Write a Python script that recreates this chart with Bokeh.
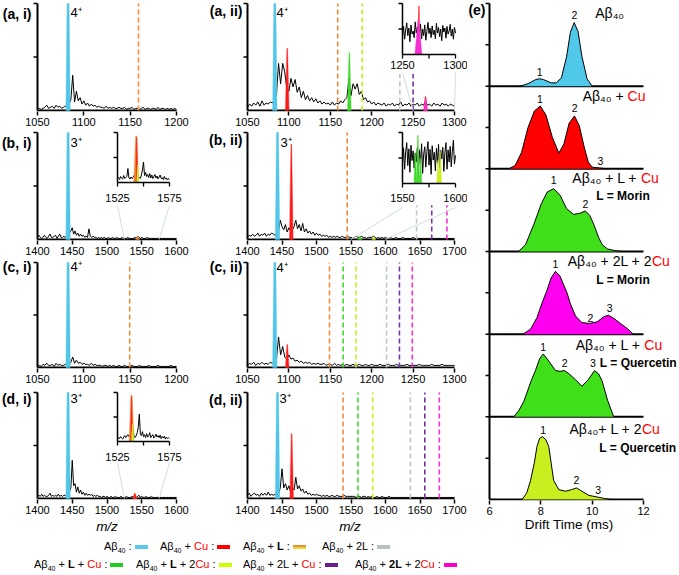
import numpy as np
from bokeh.plotting import figure
from bokeh.models import Range1d, FixedTicker, Label, Div, ColumnDataSource
from bokeh.layouts import column, row
from bokeh.core.properties import value
from bokeh.embed import file_html
from bokeh.resources import INLINE

FONT = "Liberation Sans"

# ---------------- species colours ----------------
COLORS = {"A": "#52c6e9", "Cu": "#ff1a1a", "L": "#f5883a", "2L": "#bcc8c8",
          "LCu": "#3fd92a", "L2Cu": "#c9ef22", "2LCu": "#7b34a6", "2L2Cu": "#f42fd0"}

# ---------------- (a, i) ----------------
AI_RANGE = (1050, 1200)
AI_TICKS = [1050, 1100, 1150, 1200]
AI_MZ0, AI_STEP = 1050, 2
AI_INT = [1, 2, 1, 2, 3, 5, 2, 3, 4, 2,
          5, 3, 4, 2, 3, 4, 5, 6, 10, 33,
          8, 18, 9, 12, 6, 9, 5, 7, 4, 6,
          4, 5, 3, 4, 3, 3, 2, 4, 2, 3,
          2, 3, 2, 2, 3, 2, 2, 3, 1, 2,
          2, 3, 1, 2, 2, 1, 2, 3, 1, 2,
          2, 1, 2, 2, 1, 3, 1, 2, 2, 1,
          2, 1, 2, 1, 2, 1]
AI_PK_MZ = [1083]
AI_PK_H = [1.0]
AI_PK_S = ["A"]
AI_DASH_MZ = [1159]
AI_DASH_S = ["L"]
AI_DASH_TOP = [1.0]

# ---------------- (b, i) ----------------
BI_RANGE = (1400, 1600)
BI_TICKS = [1400, 1450, 1500, 1550, 1600]
BI_MZ0, BI_STEP = 1400, 2
BI_INT = [2, 4, 2, 1, 2, 4, 2, 1, 3, 5,
          2, 2, 3, 4, 1, 3, 5, 2, 2, 3,
          2, 3, 4, 6, 8, 11, 5, 8, 4, 6,
          3, 5, 3, 4, 2, 3, 2, 10, 3, 2,
          3, 2, 2, 1, 2, 1, 2, 1, 2, 1,
          1, 2, 1, 1, 2, 1, 1, 2, 1, 1,
          1, 2, 1, 1, 1, 2, 1, 1, 1, 1,
          2, 1, 3, 2, 1, 2, 1, 1, 1, 2,
          1, 1, 1, 1, 1, 1, 1, 1, 1, 1,
          1, 1, 1, 1, 1, 1, 1, 1, 1, 1,
          1]
BI_PK_MZ = [1444, 1544]
BI_PK_H = [1.0, 0.03]
BI_PK_S = ["A", "L"]
BI_INS_RANGE = (1525, 1575)
BI_INS_INT = [8, 10, 6, 12, 9, 7, 14, 8, 10, 12,
              28, 9, 7, 11, 8, 10, 14, 20, 30, 18,
              12, 10, 8, 15, 25, 41, 14, 20, 12, 16,
              10, 18, 9, 15, 8, 12, 16, 9, 13, 7,
              11, 15, 8, 10, 6, 12, 7, 9, 5, 8,
              6]
BI_INS_PK_MZ = [1543, 1543.5, 1544.5]
BI_INS_PK_H = [0.93, 0.90, 0.35]
BI_INS_PK_S = ["L", "Cu", "L2Cu"]

# ---------------- (c, i) ----------------
CI_RANGE = (1050, 1200)
CI_TICKS = [1050, 1100, 1150, 1200]
CI_MZ0, CI_STEP = 1050, 2
CI_INT = [1, 2, 1, 3, 2, 4, 2, 2, 3, 1,
          4, 2, 3, 2, 2, 3, 3, 4, 5, 10,
          4, 7, 4, 5, 3, 4, 3, 3, 2, 4,
          2, 3, 2, 2, 2, 1, 2, 2, 1, 2,
          1, 2, 1, 1, 2, 1, 1, 2, 1, 1,
          1, 2, 1, 1, 1, 2, 1, 1, 1, 1,
          2, 1, 1, 1, 1, 2, 1, 1, 1, 1,
          1, 1, 2, 1, 1, 1]
CI_PK_MZ = [1083]
CI_PK_H = [1.0]
CI_PK_S = ["A"]
CI_DASH_MZ = [1149.5]
CI_DASH_S = ["L"]
CI_DASH_TOP = [1.0]

# ---------------- (d, i) ----------------
DI_RANGE = (1400, 1600)
DI_TICKS = [1400, 1450, 1500, 1550, 1600]
DI_MZ0, DI_STEP = 1400, 2
DI_INT = [2, 3, 2, 4, 2, 3, 2, 2, 3, 5,
          2, 3, 2, 3, 2, 4, 2, 3, 2, 3,
          3, 4, 5, 7, 10, 36, 12, 14, 6, 11,
          5, 8, 4, 6, 3, 5, 3, 4, 3, 4,
          2, 3, 2, 3, 2, 2, 1, 2, 2, 1,
          2, 1, 1, 2, 1, 1, 2, 1, 1, 1,
          2, 1, 1, 1, 2, 1, 1, 1, 2, 1,
          3, 1, 2, 3, 1, 2, 1, 1, 2, 1,
          1, 1, 2, 1, 1, 1, 1, 1, 1, 1,
          1, 1, 1, 1, 1, 1, 1, 1, 1, 1,
          1]
DI_PK_MZ = [1444, 1540, 1540]
DI_PK_H = [1.0, 0.05, 0.045]
DI_PK_S = ["A", "L", "Cu"]
DI_INS_RANGE = (1525, 1575)
DI_INS_INT = [5, 8, 6, 10, 7, 5, 9, 12, 8, 11,
              14, 10, 9, 20, 35, 22, 10, 8, 12, 18,
              30, 56, 15, 12, 20, 10, 14, 8, 16, 9,
              12, 18, 8, 11, 14, 7, 10, 15, 9, 12,
              8, 13, 6, 10, 7, 11, 5, 9, 6, 8,
              6]
DI_INS_PK_MZ = [1538.5, 1538.5, 1539.5]
DI_INS_PK_H = [0.94, 0.92, 0.35]
DI_INS_PK_S = ["L", "Cu", "L2Cu"]

# ---------------- (a, ii) ----------------
AII_RANGE = (1050, 1300)
AII_TICKS = [1050, 1100, 1150, 1200, 1250, 1300]
AII_MZ0, AII_STEP = 1050, 2.5
AII_INT = [3, 6, 4, 7, 5, 8, 4, 9, 5, 7,
           6, 8, 7, 10, 15, 44, 25, 44, 36, 20,
           18, 30, 22, 29, 17, 22, 12, 18, 10, 14,
           9, 12, 8, 11, 7, 9, 6, 8, 6, 7,
           5, 8, 5, 7, 6, 9, 7, 10, 12, 30,
           14, 25, 20, 25, 15, 18, 10, 12, 8, 9,
           6, 8, 5, 7, 6, 5, 7, 4, 6, 5,
           7, 4, 6, 5, 8, 4, 6, 5, 7, 4,
           6, 5, 7, 4, 6, 5, 8, 5, 6, 4,
           7, 5, 6, 4, 7, 5, 6, 4, 6, 5,
           4]
AII_PK_MZ = [1083, 1098, 1173, 1265, 1265]
AII_PK_H = [1.0, 0.58, 0.54, 0.13, 0.11]
AII_PK_S = ["A", "Cu", "LCu", "Cu", "2L2Cu"]
AII_DASH_MZ = [1159, 1188.5, 1234, 1250]
AII_DASH_S = ["L", "L2Cu", "2L", "2LCu"]
AII_DASH_TOP = [1.0, 1.0, 0.34, 0.34]
AII_INS_RANGE = (1250, 1300)
AII_INS_INT = [35, 55, 30, 48, 62, 37, 52, 25, 58, 40,
               46, 33, 64, 42, 54, 50, 39, 60, 31, 50,
               37, 58, 28, 45, 63, 41, 52, 33, 56, 39,
               48, 31, 61, 42, 53, 35, 50, 27, 57, 44,
               52, 32, 55, 40, 46, 59, 36, 50, 30, 53,
               42]
AII_INS_PK_MZ = [1265.5, 1265]
AII_INS_PK_H = [0.95, 0.67]
AII_INS_PK_S = ["Cu", "2L2Cu"]

# ---------------- (b, ii) ----------------
BII_RANGE = (1400, 1700)
BII_TICKS = [1400, 1450, 1500, 1550, 1600, 1650, 1700]
BII_MZ0, BII_STEP = 1400, 2.5
BII_INT = [2, 4, 3, 5, 3, 4, 6, 3, 5, 4,
           6, 3, 5, 4, 6, 5, 4, 6, 8, 18,
           12, 9, 14, 7, 11, 8, 9, 12, 18, 10,
           14, 8, 15, 7, 10, 6, 8, 5, 7, 4,
           6, 4, 5, 3, 4, 3, 4, 2, 3, 2,
           3, 2, 3, 2, 2, 3, 2, 2, 3, 2,
           2, 1, 2, 3, 2, 2, 3, 2, 2, 1,
           2, 2, 2, 3, 2, 1, 2, 1, 2, 1,
           2, 1, 1, 2, 1, 1, 2, 1, 1, 1,
           2, 1, 1, 1, 1, 1, 2, 1, 1, 1,
           1, 1, 1, 1, 1, 1, 1, 1, 1, 1,
           1, 1, 1, 1, 1, 1, 1, 1, 1, 1,
           1]
BII_PK_MZ = [1443.5, 1463.5, 1563, 1583]
BII_PK_H = [1.0, 0.89, 0.03, 0.025]
BII_PK_S = ["A", "Cu", "LCu", "L2Cu"]
BII_DASH_MZ = [1544.5, 1645, 1667, 1689]
BII_DASH_S = ["L", "2L", "2LCu", "2L2Cu"]
BII_DASH_TOP = [1.0, 0.32, 0.32, 0.32]
BII_INS_RANGE = (1550, 1600)
BII_INS_INT = [40, 70, 28, 62, 80, 35, 68, 22, 75, 45,
               64, 30, 60, 42, 70, 26, 66, 38, 78, 20,
               58, 72, 32, 63, 82, 36, 67, 18, 74, 46,
               61, 25, 69, 40, 77, 30, 65, 48, 71, 24,
               60, 80, 28, 66, 42, 73, 33, 62, 85, 38,
               55]
BII_INS_PK_MZ = [1564.5, 1562, 1567, 1585.5, 1583.5]
BII_INS_PK_H = [0.94, 0.6, 0.5, 0.63, 0.45]
BII_INS_PK_S = ["LCu", "LCu", "LCu", "L2Cu", "L2Cu"]

# ---------------- (c, ii) ----------------
CII_RANGE = (1050, 1300)
CII_TICKS = [1050, 1100, 1150, 1200, 1250, 1300]
CII_MZ0, CII_STEP = 1050, 2.5
CII_INT = [2, 4, 3, 5, 2, 4, 3, 5, 3, 4,
           3, 5, 4, 6, 8, 29, 12, 20, 10, 8,
           12, 8, 9, 6, 7, 5, 6, 4, 5, 4,
           5, 3, 4, 3, 4, 3, 3, 4, 2, 3,
           3, 2, 4, 2, 3, 2, 3, 2, 3, 2,
           2, 3, 2, 2, 3, 2, 2, 3, 2, 2,
           3, 2, 2, 2, 3, 2, 2, 2, 3, 2,
           2, 2, 3, 2, 2, 2, 2, 3, 2, 2,
           2, 2, 2, 3, 2, 2, 2, 2, 2, 3,
           2, 2, 2, 2, 3, 2, 2, 2, 2, 2,
           2]
CII_PK_MZ = [1083, 1098]
CII_PK_H = [1.0, 0.22]
CII_PK_S = ["A", "Cu"]
CII_DASH_MZ = [1149, 1165.5, 1181, 1218, 1233.5, 1249]
CII_DASH_S = ["L", "LCu", "L2Cu", "2L", "2LCu", "2L2Cu"]
CII_DASH_TOP = [1.0, 1.0, 1.0, 1.0, 1.0, 1.0]

# ---------------- (d, ii) ----------------
DII_RANGE = (1400, 1700)
DII_TICKS = [1400, 1450, 1500, 1550, 1600, 1650, 1700]
DII_MZ0, DII_STEP = 1400, 2.5
DII_INT = [3, 5, 2, 4, 5, 3, 4, 2, 5, 3,
           5, 3, 6, 3, 4, 3, 4, 3, 5, 10,
           28, 10, 14, 8, 12, 6, 10, 8, 20, 9,
           12, 7, 9, 5, 7, 4, 5, 3, 4, 3,
           4, 3, 3, 2, 3, 2, 3, 2, 2, 3,
           2, 2, 3, 2, 2, 2, 3, 2, 2, 2,
           2, 2, 2, 1, 2, 2, 1, 2, 2, 1,
           2, 1, 2, 1, 1, 2, 1, 1, 2, 1,
           1, 1, 2, 1, 1, 1, 1, 1, 1, 1,
           1, 1, 1, 1, 1, 1, 1, 1, 1, 1,
           1, 1, 1, 1, 1, 1, 1, 1, 1, 1,
           1, 1, 1, 1, 1, 1, 1, 1, 1, 1,
           1]
DII_PK_MZ = [1443.5, 1464]
DII_PK_H = [1.0, 0.61]
DII_PK_S = ["A", "Cu"]
DII_DASH_MZ = [1538.5, 1560, 1581.5, 1636, 1657, 1678]
DII_DASH_S = ["L", "LCu", "L2Cu", "2L", "2LCu", "2L2Cu"]
DII_DASH_TOP = [1.0, 1.0, 1.0, 1.0, 1.0, 1.0]

# ---------------- (e) drift-time distributions ----------------
E_T1 = [7.2, 7.5, 7.8, 7.95, 8.1, 8.4, 8.6, 8.8, 9.0, 9.15, 9.3, 9.45, 9.6, 9.8, 10.0]
E_V1 = [0, 0.03, 0.08, 0.09, 0.08, 0.04, 0.04, 0.10, 0.35, 0.65, 0.77, 0.66, 0.36, 0.09, 0.0]
E_T2 = [6.75, 7.0, 7.25, 7.5, 7.75, 7.98, 8.2, 8.45, 8.7, 8.9, 9.1, 9.31, 9.5, 9.7, 9.85, 10.0, 10.3, 10.6]
E_V2 = [0, 0.04, 0.2, 0.5, 0.7, 0.76, 0.65, 0.38, 0.19, 0.3, 0.55, 0.64, 0.52, 0.25, 0.08, 0.02, 0.01, 0]
E_T3 = [7.13, 7.4, 7.73, 8.02, 8.25, 8.5, 8.75, 9.0, 9.27, 9.5, 9.73, 9.9, 10.06, 10.25, 10.4, 10.6, 10.9, 11.2]
E_V3 = [0, 0.08, 0.33, 0.58, 0.72, 0.76, 0.68, 0.52, 0.45, 0.46, 0.49, 0.44, 0.33, 0.17, 0.08, 0.03, 0.01, 0]
E_T4 = [7.3, 7.6, 7.85, 8.05, 8.24, 8.4, 8.57, 8.75, 9.02, 9.15, 9.35, 9.6, 9.9, 10.2, 10.45, 10.63, 10.85, 11.1, 11.36, 11.6]
E_V4 = [0, 0.06, 0.2, 0.38, 0.53, 0.68, 0.76, 0.7, 0.5, 0.37, 0.22, 0.14, 0.13, 0.15, 0.21, 0.23, 0.19, 0.13, 0.07, 0]
E_T5 = [6.95, 7.15, 7.34, 7.63, 7.79, 7.95, 8.09, 8.25, 8.57, 8.75, 8.92, 9.1, 9.35, 9.6, 9.85, 10.09, 10.25, 10.38, 10.6, 10.84]
E_V5 = [0, 0.08, 0.19, 0.44, 0.56, 0.7, 0.76, 0.7, 0.56, 0.55, 0.56, 0.52, 0.45, 0.37, 0.45, 0.56, 0.52, 0.44, 0.2, 0]
E_T6 = [7.27, 7.45, 7.6, 7.75, 7.85, 7.95, 8.07, 8.2, 8.31, 8.5, 8.7, 8.96, 9.2, 9.39, 9.6, 9.87, 10.2, 10.45, 10.7]
E_V6 = [0, 0.08, 0.23, 0.45, 0.64, 0.74, 0.76, 0.72, 0.64, 0.23, 0.12, 0.1, 0.12, 0.14, 0.1, 0.05, 0.03, 0.015, 0]
E_FILLS = ["#4fc8ea", "#ff0000", "#3fe01a", "#ff00ee", "#3fe01a", "#c8f020"]

E_NUM_PANEL = [0, 0, 1, 1, 1, 2, 2, 3, 3, 3, 4, 4, 4, 5, 5, 5]
E_NUM_T = [7.95, 9.31, 7.96, 9.32, 10.32, 8.5, 9.74, 8.57, 9.93, 10.68, 8.09, 8.93, 10.03, 8.09, 9.39, 10.23]
E_NUM_F = [0.17, 0.86, 0.85, 0.73, 0.09, 0.86, 0.58, 0.85, 0.2, 0.32, 0.85, 0.65, 0.65, 0.84, 0.23, 0.11]
E_NUM_TXT = ["1", "2", "1", "2", "3", "1", "2", "1", "2", "3", "1", "2", "3", "1", "2", "3"]

E_TITLE_BLACK = ["A\u03b2\u2084\u2080", "A\u03b2\u2084\u2080 +\u00a0", "A\u03b2\u2084\u2080 + L +\u00a0",
                 "A\u03b2\u2084\u2080 + 2L + 2", "A\u03b2\u2084\u2080 + L +\u00a0", "A\u03b2\u2084\u2080+ L + 2"]
E_TITLE_RED = ["", "Cu", "Cu", "Cu", "Cu", "Cu"]
E_TITLE_T = [10.12, 11.38, 11.9, 12.33, 12.03, 11.94]
E_TITLE_F = [0.88, 0.88, 0.89, 0.88, 0.87, 0.85]
E_SUB_TXT = ["", "", "L = Morin", "L = Morin", "L = Quercetin", "L = Quercetin"]
E_SUB_T = [0, 0, 10.16, 10.16, 10.3, 10.28]
E_SUB_F = [0, 0, 0.67, 0.65, 0.65, 0.62]

# ---------------- legend ----------------
LEG_ROW = [0, 0, 0, 0, 1, 1, 1, 1]
LEG_LEFT = [104, 160, 243, 322, 34, 136, 243, 355]
LEG_KEY = ["A", "Cu", "L", "2L", "LCu", "L2Cu", "2LCu", "2L2Cu"]
RED = '<span style="color:#ff0000">Cu</span>'
AB = 'A&beta;<sub style="font-size:7px;line-height:0">40</sub>'
LEG_HTML = [AB + " :", AB + " + " + RED + " :", AB + " + <b>L</b> :", AB + " + 2L :",
            AB + " + <b>L</b> + " + RED + " :", AB + " + <b>L</b> + 2" + RED + " :",
            AB + " + 2L + " + RED + " :", AB + " + <b>2L</b> + 2" + RED + " :"]
LEG_SWATCH = {"A": "#5ac8e8", "Cu": "#ff0000", "L": "linear-gradient(#f08a3c 60%, #d8e030 60%)",
              "2L": "#b6c2c2", "LCu": "#22cc22", "L2Cu": "#ccff00", "2LCu": "#6a1f8f", "2L2Cu": "#ff00cc"}

# ---------------- page geometry (pixels) ----------------
# columns: (figure left, figure width, pixel of range start, pixel of range end)
COL1 = (0, 203, 37, 176)
COL2 = (203, 264, 247, 454)
COL3 = (467, 211, 489, 643)
# rows: (figure top, axis top, baseline)
ROWS = [(0, 3, 110), (130, 132, 239), (259, 262, 367), (387, 392, 498)]
BB = 19


def style_axes(p, xticks):
    p.grid.visible = False
    p.outline_line_color = None
    p.background_fill_color = "white"
    p.border_fill_color = "white"
    p.yaxis.visible = False
    ax = p.xaxis[0]
    ax.axis_line_color = None
    ax.major_tick_line_width = 1.5
    ax.major_tick_line_color = "black"
    ax.major_tick_in = 0
    ax.major_tick_out = 4
    ax.minor_tick_line_color = None
    ax.ticker = FixedTicker(ticks=xticks)
    ax.major_label_text_font = FONT
    ax.major_label_text_font_size = "11px"
    ax.major_label_standoff = 2
    ax.major_label_text_color = "black"


def draw_yaxis(p, x0, y_lo, y_hi, ticks):
    p.segment(x0=[x0], y0=[y_lo], x1=[x0], y1=[y_hi], line_color="black", line_width=2)
    p.ray(x=[x0] * len(ticks), y=ticks, length=4, length_units="screen", angle=np.pi,
          line_color="black", line_width=1.5)


def peak_patches(p, mz, h, sp, da_per_px, base_px, top_px, **kw):
    xs, ys, cs = [], [], []
    for m, hh, s, wb, wt in zip(mz, h, sp, base_px, top_px):
        b = wb * da_per_px
        t = wt * da_per_px
        xs.append([m - b, m - t, m + t, m + b])
        ys.append([0, hh, hh, 0])
        cs.append(COLORS[s])
    p.patches(xs, ys, fill_color=cs, line_color=cs, line_width=0.4, **kw)


def txt(p, x, y, text, size="12px", align="left", color="black", style="normal", xu="screen", yu="screen"):
    p.add_layout(Label(x=x, y=y, x_units=xu, y_units=yu, text=text, text_font=FONT,
                       text_font_size=size, text_align=align, text_baseline="middle",
                       text_color=color, text_font_style=style))


def spec_fig(col, ri, rng, ticks, mz0, step, ints, pk_mz, pk_h, pk_s, d_mz, d_s, d_top,
             tag, tag_xy, charge, ch_xy):
    figL, figW, px0, px1 = col
    ftop, atop, base = ROWS[ri]
    hf = base + 1 - ftop
    dpp = (rng[1] - rng[0]) / (px1 - px0)
    xs0 = rng[0] - (px0 - figL) * dpp
    s = float(base - atop)
    ys0 = -1.0 / s
    p = figure(frame_width=figW, frame_height=hf,
               x_range=Range1d(xs0, xs0 + figW * dpp), y_range=Range1d(ys0, ys0 + hf / s),
               min_border_left=0, min_border_right=0, min_border_top=0, min_border_bottom=BB,
               output_backend="svg", toolbar_location=None)
    style_axes(p, ticks)
    p.segment(x0=[rng[0]], y0=[0], x1=[rng[1]], y1=[0], line_color="black", line_width=2)
    draw_yaxis(p, rng[0], 0, 1, [0.5, 1.0])
    mz = mz0 + step * np.arange(len(ints))
    p.line(mz, np.array(ints) / 100.0, line_color="black", line_width=1.0)
    base_w = [2.2 if sp == "A" else 1.8 for sp in pk_s]
    top_w = [1.0 if sp == "A" else 0.35 for sp in pk_s]
    peak_patches(p, pk_mz, pk_h, pk_s, dpp, base_w, top_w)
    if d_mz:
        p.segment(x0=d_mz, y0=[0] * len(d_mz), x1=d_mz, y1=d_top,
                  line_color=[COLORS[k] for k in d_s], line_width=1.6, line_dash="5 3")
    fb = base + 1
    txt(p, tag_xy[0] - figL, fb - tag_xy[1], tag, size="14px", align="right", style="bold")
    txt(p, ch_xy[0] - figL, fb - ch_xy[1], charge, size="13px")
    p._geom = (figL, figW, hf, fb, xs0, dpp)
    return p


def add_inset(p, rng_main, box, irng, ints, pk_mz, pk_h, pk_s, base_px, top_px,
              lab_y, conn_y, conn_targets):
    figL, figW, hf, fb, xs0, dpp = p._geom
    L, R, T, B = box
    a, b = L - figL, R - figL
    c, d = fb - B, fb - T
    ix0, ix1 = irng
    kx = (ix1 - ix0) / (b - a)
    sx = ix0 - a * kx
    ky = 1.0 / (d - c)
    sy = -c * ky
    p.extra_x_ranges = {"ins": Range1d(sx, sx + figW * kx)}
    p.extra_y_ranges = {"ins": Range1d(sy, sy + hf * ky)}
    kw = dict(x_range_name="ins", y_range_name="ins")
    # connectors to the zoomed region on the main axis
    tx = [sx + ((t - xs0) / dpp) * kx for t in conn_targets]
    ystart = ((fb - conn_y) - c) * ky
    yend = (1 - c) * ky
    p.segment(x0=[ix0, ix1], y0=[ystart] * 2, x1=tx, y1=[yend, yend],
              line_color="#c9dada", line_width=0.9, **kw)
    mz = ix0 + np.arange(len(ints))
    p.line(mz, np.array(ints) / 100.0, line_color="black", line_width=1.0, **kw)
    peak_patches(p, pk_mz, pk_h, pk_s, kx, base_px, top_px, **kw)
    p.segment(x0=[ix0, ix0], y0=[0, 0], x1=[ix0, ix1], y1=[1, 0],
              line_color="black", line_width=1.5, **kw)
    p.ray(x=[ix0, ix0], y=[0.5, 1.0], length=4, length_units="screen", angle=np.pi,
          line_color="black", line_width=1.3, **kw)
    p.ray(x=[ix0, (ix0 + ix1) / 2, ix1], y=[0, 0, 0], length=4, length_units="screen",
          angle=-np.pi / 2, line_color="black", line_width=1.3, **kw)
    txt(p, a, fb - lab_y, str(ix0), size="11px", align="center")
    txt(p, b, fb - lab_y, str(ix1), size="11px", align="center")


# column 1
fa1 = spec_fig(COL1, 0, AI_RANGE, AI_TICKS, AI_MZ0, AI_STEP, AI_INT, AI_PK_MZ, AI_PK_H, AI_PK_S,
               AI_DASH_MZ, AI_DASH_S, AI_DASH_TOP, "(a, i)", (31, 13), "4\u207a", (70, 12))
fb1 = spec_fig(COL1, 1, BI_RANGE, BI_TICKS, BI_MZ0, BI_STEP, BI_INT, BI_PK_MZ, BI_PK_H, BI_PK_S,
               [], [], [], "(b, i)", (31, 142), "3\u207a", (70, 142))
add_inset(fb1, BI_RANGE, (117, 169, 132, 182), BI_INS_RANGE, BI_INS_INT,
          BI_INS_PK_MZ, BI_INS_PK_H, BI_INS_PK_S, [2.5, 0.8, 1.2], [0.6, 0.2, 0.3], 197, 205, [1525, 1575])
fc1 = spec_fig(COL1, 2, CI_RANGE, CI_TICKS, CI_MZ0, CI_STEP, CI_INT, CI_PK_MZ, CI_PK_H, CI_PK_S,
               CI_DASH_MZ, CI_DASH_S, CI_DASH_TOP, "(c, i)", (31, 266), "4\u207a", (70, 266))
fd1 = spec_fig(COL1, 3, DI_RANGE, DI_TICKS, DI_MZ0, DI_STEP, DI_INT, DI_PK_MZ, DI_PK_H, DI_PK_S,
               [], [], [], "(d, i)", (31, 398), "3\u207a", (70, 398))
add_inset(fd1, DI_RANGE, (117, 169, 392, 441), DI_INS_RANGE, DI_INS_INT,
          DI_INS_PK_MZ, DI_INS_PK_H, DI_INS_PK_S, [2.5, 0.8, 1.2], [0.6, 0.2, 0.3], 456, 462, [1525, 1575])

# column 2
fa2 = spec_fig(COL2, 0, AII_RANGE, AII_TICKS, AII_MZ0, AII_STEP, AII_INT, AII_PK_MZ, AII_PK_H, AII_PK_S,
               AII_DASH_MZ, AII_DASH_S, AII_DASH_TOP, "(a, ii)", (242, 10), "4\u207a", (276, 12))
add_inset(fa2, AII_RANGE, (402, 455, 3, 54), AII_INS_RANGE, AII_INS_INT,
          AII_INS_PK_MZ, AII_INS_PK_H, AII_INS_PK_S, [1.2, 3.5], [0.3, 0.5], 64, 72, [1250, 1300])
fb2 = spec_fig(COL2, 1, BII_RANGE, BII_TICKS, BII_MZ0, BII_STEP, BII_INT, BII_PK_MZ, BII_PK_H, BII_PK_S,
               BII_DASH_MZ, BII_DASH_S, BII_DASH_TOP, "(b, ii)", (242, 139), "3\u207a", (280, 142))
add_inset(fb2, BII_RANGE, (402, 455, 132, 183), BII_INS_RANGE, BII_INS_INT,
          BII_INS_PK_MZ, BII_INS_PK_H, BII_INS_PK_S, [1.5, 1.2, 1.2, 1.5, 1.2], [0.3] * 5, 197, 207, [1550, 1600])
fc2 = spec_fig(COL2, 2, CII_RANGE, CII_TICKS, CII_MZ0, CII_STEP, CII_INT, CII_PK_MZ, CII_PK_H, CII_PK_S,
               CII_DASH_MZ, CII_DASH_S, CII_DASH_TOP, "(c, ii)", (242, 266), "4\u207a", (276, 267))
fd2 = spec_fig(COL2, 3, DII_RANGE, DII_TICKS, DII_MZ0, DII_STEP, DII_INT, DII_PK_MZ, DII_PK_H, DII_PK_S,
               DII_DASH_MZ, DII_DASH_S, DII_DASH_TOP, "(d, ii)", (242, 399), "3\u207a", (279, 398))

# column 3: panel (e)
figL, figW, px0, px1 = COL3
E_TOP, E_BASE = 3, 499
ehf = E_BASE + 1
dpp = 6.0 / (px1 - px0)
exs0 = 6 - (px0 - figL) * dpp
es = (E_BASE - E_TOP) / 6.0
eys0 = -1.0 / es
pe = figure(frame_width=figW, frame_height=ehf,
            x_range=Range1d(exs0, exs0 + figW * dpp), y_range=Range1d(eys0, eys0 + ehf / es),
            min_border_left=0, min_border_right=0, min_border_top=0, min_border_bottom=18,
            output_backend="svg", toolbar_location=None)
style_axes(pe, [6, 8, 10, 12])
pe.segment(x0=[6] * 6, y0=[0, 1, 2, 3, 4, 5], x1=[12] * 6, y1=[0, 1, 2, 3, 4, 5],
           line_color="black", line_width=2)
draw_yaxis(pe, 6, 0, 6, [0.5 * k for k in range(1, 13)])
curves = [(E_T1, E_V1), (E_T2, E_V2), (E_T3, E_V3), (E_T4, E_V4), (E_T5, E_V5), (E_T6, E_V6)]
for i, (t, v) in enumerate(curves):
    b0 = 5 - i
    top = b0 + np.array(v)
    pe.varea(x=t, y1=[b0] * len(t), y2=top, fill_color=E_FILLS[i])
    pe.line(t, top, line_color="black", line_width=1)
num_src = ColumnDataSource(dict(x=E_NUM_T, y=[5 - pi + f for pi, f in zip(E_NUM_PANEL, E_NUM_F)],
                                text=E_NUM_TXT))
pe.text(x="x", y="y", text="text", source=num_src, text_font=value(FONT), text_font_size="10.5px",
        text_align="center", text_baseline="middle", text_color="black")
for i in range(6):
    b0 = 5 - i
    if E_TITLE_RED[i]:
        txt(pe, E_TITLE_T[i], b0 + E_TITLE_F[i], E_TITLE_BLACK[i], size="14px", align="right", xu="data", yu="data")
        txt(pe, E_TITLE_T[i], b0 + E_TITLE_F[i], E_TITLE_RED[i], size="14px", align="left",
            color="#ff0000", xu="data", yu="data")
    else:
        txt(pe, E_TITLE_T[i], b0 + E_TITLE_F[i], E_TITLE_BLACK[i], size="14px", align="left", xu="data", yu="data")
    if E_SUB_TXT[i]:
        txt(pe, E_SUB_T[i], b0 + E_SUB_F[i], E_SUB_TXT[i], size="12px", align="left",
            style="bold", xu="data", yu="data")
txt(pe, 485 - figL, ehf - 9, "(e)", size="14px", align="right", style="bold")

# bottom strip: axis titles and legend
items = [
    '<span style="position:absolute;left:107px;top:1px;transform:translateX(-50%);font-style:italic;'
    'font-size:13.5px;line-height:16px">m/z</span>',
    '<span style="position:absolute;left:350px;top:1px;transform:translateX(-50%);font-style:italic;'
    'font-size:13.5px;line-height:16px">m/z</span>',
    '<span style="position:absolute;left:569px;top:-1px;transform:translateX(-50%);'
    'font-size:13.5px;line-height:16px;white-space:nowrap">Drift Time (ms)</span>',
]
for r, left, key, html in zip(LEG_ROW, LEG_LEFT, LEG_KEY, LEG_HTML):
    topy = 22 + 18 * r
    items.append(
        f'<span style="position:absolute;left:{left}px;top:{topy}px;white-space:nowrap;line-height:13px;'
        f'font-size:11px">{html}<span style="display:inline-block;width:13px;height:4px;margin-left:3px;'
        f'vertical-align:middle;background:{LEG_SWATCH[key]}"></span></span>')
strip_html = (f'<div style="position:relative;width:678px;height:56px;font-family:\'{FONT}\';'
              f'color:black">' + "".join(items) + '</div>')
strip = Div(text=strip_html, width=678, height=56, margin=(0, 0, 0, 0))

col1 = column(fa1, fb1, fc1, fd1, spacing=0)
col2 = column(fa2, fb2, fc2, fd2, spacing=0)
layout = column(row(col1, col2, pe, spacing=0), strip, spacing=0)

open("out.html", "w").write(file_html(layout, INLINE))
